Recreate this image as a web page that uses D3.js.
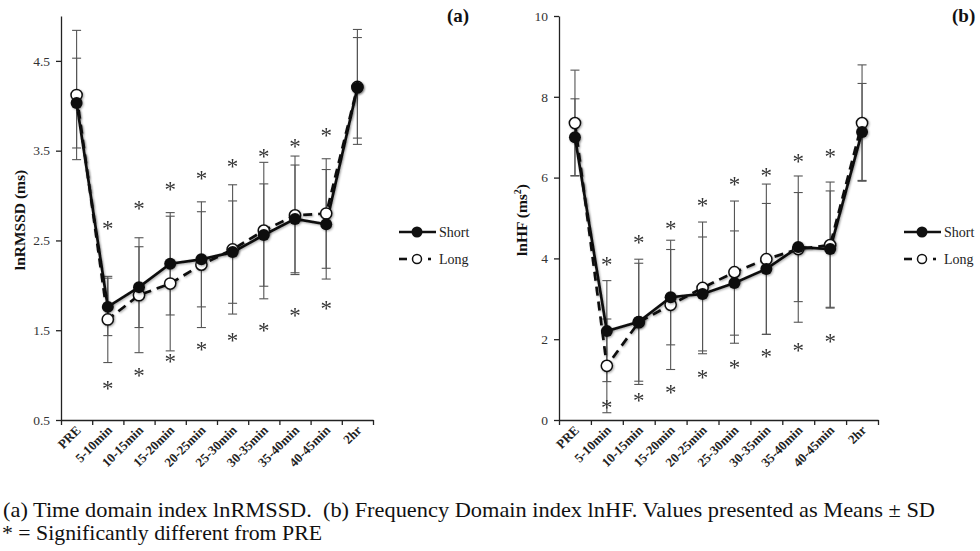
<html>
<head>
<meta charset="utf-8">
<title>lnRMSSD / lnHF</title>
<style>
  body { margin: 0; background: #fff; }
  svg text { font-family: "Liberation Serif", "Times New Roman", serif; }
</style>
</head>
<body>
<div id="chart"></div>
<script src="https://cdn.jsdelivr.net/npm/d3@7"></script>
<script>
(function(){
  "use strict";

  // time points
  var categories = ["PRE", "5-10min", "10-15min", "15-20min", "20-25min", "25-30min",
                    "30-35min", "35-40min", "40-45min", "2hr"];

  // (a) lnRMSSD, means and SD
  var rmssdShort   = [4.03, 1.76, 1.98, 2.24, 2.29, 2.37, 2.56, 2.74, 2.68, 4.20];
  var rmssdShortSD = [0.50, 0.32, 0.45, 0.57, 0.53, 0.57, 0.57, 0.60, 0.61, 0.56];
  var rmssdLong    = [4.12, 1.62, 1.89, 2.02, 2.23, 2.40, 2.61, 2.78, 2.80, 4.21];
  var rmssdLongSD  = [0.72, 0.48, 0.64, 0.75, 0.70, 0.72, 0.76, 0.66, 0.61, 0.64];
  // where the "*" marks sit (null = none)
  var rmssdStarUp   = [null, 2.68, 2.90, 3.11, 3.23, 3.37, 3.48, 3.59, 3.71, null];
  var rmssdStarDown = [null, 0.90, 1.04, 1.20, 1.33, 1.43, 1.54, 1.71, 1.79, null];
  var rmssdTicks = [0.5, 1.5, 2.5, 3.5, 4.5];

  // (b) lnHF, means and SD
  var hfShort   = [7.00, 2.20, 2.43, 3.04, 3.12, 3.39, 3.74, 4.28, 4.23, 7.13];
  var hfShortSD = [0.95, 1.25, 1.55, 1.18, 1.41, 1.29, 1.62, 1.35, 1.44, 1.20];
  var hfLong    = [7.35, 1.34, 2.42, 2.85, 3.27, 3.66, 3.98, 4.23, 4.33, 7.35];
  var hfLongSD  = [1.31, 1.16, 1.46, 1.60, 1.63, 1.76, 1.86, 1.81, 1.56, 1.44];
  var hfStarUp   = [null, 3.96, 4.50, 4.83, 5.40, 5.92, 6.16, 6.49, 6.63, null];
  var hfStarDown = [null, 0.40, 0.59, 0.77, 1.16, 1.41, 1.68, 1.83, 2.05, null];
  var hfTicks = [0, 2, 4, 6, 8, 10];

  var width = 980, height = 551;
  var serif = "Liberation Serif";

  var svg = d3.select("#chart").append("svg")
      .attr("width", width)
      .attr("height", height);

  // soft shadow like the Excel markers
  var defs = svg.append("defs");
  var f = defs.append("filter").attr("id", "shadow")
      .attr("x", "-50%").attr("y", "-50%").attr("width", "200%").attr("height", "200%");
  f.append("feDropShadow").attr("dx", 1).attr("dy", 1)
      .attr("stdDeviation", 1).attr("flood-color", "#000").attr("flood-opacity", 0.35);

  function drawPanel(opt) {
    var g = svg.append("g");

    var x = d3.scaleBand().domain(categories).range(opt.xRange);
    var xEdge = d3.scaleLinear().domain([0, categories.length]).range(opt.xRange);
    var y = d3.scaleLinear().domain(opt.yDomain).range([420, 16]);
    var cx = function(i){ return x(categories[i]) + x.bandwidth() / 2; };

    // y axis
    var yAxis = g.append("g")
        .attr("transform", "translate(" + opt.xRange[0] + ",0)")
        .call(d3.axisLeft(y).tickValues(opt.ticks).tickSize(5).tickSizeOuter(0)
              .tickFormat(opt.tickFormat));
    yAxis.selectAll("text").attr("font-size", 13.5).attr("fill", "#333")
        .attr("font-family", serif).attr("dx", "-3");

    // x axis: tick marks on category edges, labels under the centres
    var xAxis = g.append("g")
        .attr("transform", "translate(0,420)")
        .call(d3.axisBottom(xEdge).tickValues(d3.range(categories.length + 1))
              .tickSize(5).tickSizeOuter(0).tickFormat(""));
    [yAxis, xAxis].forEach(function(a){
      a.selectAll("path, line").attr("stroke", "#222").attr("stroke-width", 1.3);
    });

    g.append("g").selectAll("text")
      .data(categories)
      .enter().append("text")
        .attr("transform", function(d, i){
          return "translate(" + (cx(i) + 5) + ",431) rotate(-45)";
        })
        .attr("text-anchor", "end")
        .attr("font-family", serif)
        .attr("font-size", 13)
        .attr("font-weight", "bold")
        .attr("fill", "#222")
        .text(function(d){ return d; });

    // y title
    var title = g.append("text")
        .attr("transform", "translate(" + opt.titleX + ",220) rotate(-90)")
        .attr("text-anchor", "middle")
        .attr("font-family", serif)
        .attr("font-size", 15.5)
        .attr("font-weight", "bold")
        .attr("fill", "#111");
    opt.title(title);

    // error bars
    var series = [
      { m: opt.long,  sd: opt.longSD },
      { m: opt.short, sd: opt.shortSD }
    ];
    var eb = g.append("g").attr("stroke", "#555").attr("stroke-width", 1.1);
    series.forEach(function(s){
      s.m.forEach(function(v, i){
        var xx = cx(i), top = y(v + s.sd[i]), bot = y(v - s.sd[i]);
        eb.append("line").attr("x1", xx).attr("x2", xx).attr("y1", top).attr("y2", bot);
        eb.append("line").attr("x1", xx - 4.5).attr("x2", xx + 4.5).attr("y1", top).attr("y2", top);
        eb.append("line").attr("x1", xx - 4.5).attr("x2", xx + 4.5).attr("y1", bot).attr("y2", bot);
      });
    });

    // asterisks
    var stars = [];
    opt.starUp.forEach(function(v, i){ if (v !== null) stars.push([i, v]); });
    opt.starDown.forEach(function(v, i){ if (v !== null) stars.push([i, v]); });
    g.append("g").attr("opacity", 0.99).selectAll("text")
      .data(stars)
      .enter().append("text")
        .attr("x", function(d){ return cx(d[0]); })
        .attr("y", function(d){ return y(d[1]); })
        .attr("dy", "0.5em")
        .attr("text-anchor", "middle")
        .attr("font-family", serif)
        .attr("font-size", 23)
        .attr("fill", "#333")
        .text("*");

    var line = d3.line()
        .x(function(d, i){ return cx(i); })
        .y(function(d){ return y(d); });

    g.append("path").datum(opt.short)
      .attr("d", line).attr("fill", "none")
      .attr("stroke", "#111").attr("stroke-width", 2.7)
      .attr("filter", "url(#shadow)");
    g.append("path").datum(opt.long)
      .attr("d", line).attr("fill", "none")
      .attr("stroke", "#111").attr("stroke-width", 2.7)
      .attr("stroke-dasharray", "9,6")
      .attr("filter", "url(#shadow)");

    g.append("g").selectAll("circle")
      .data(opt.long)
      .enter().append("circle")
        .attr("cx", function(d, i){ return cx(i); })
        .attr("cy", function(d){ return y(d); })
        .attr("r", 5.6)
        .attr("fill", "#fff")
        .attr("stroke", "#111")
        .attr("stroke-width", 1.5)
        .attr("filter", "url(#shadow)");
    g.append("g").selectAll("circle")
      .data(opt.short)
      .enter().append("circle")
        .attr("cx", function(d, i){ return cx(i); })
        .attr("cy", function(d){ return y(d); })
        .attr("r", 6)
        .attr("fill", "#111")
        .attr("filter", "url(#shadow)");

    // legend
    var lg = g.append("g").attr("transform", "translate(" + opt.legendX + ",0)");
    lg.append("line").attr("x1", 0).attr("x2", 37).attr("y1", 232).attr("y2", 232)
      .attr("stroke", "#111").attr("stroke-width", 2.6);
    lg.append("circle").attr("cx", 18).attr("cy", 232).attr("r", 5.5).attr("fill", "#111");
    lg.append("text").attr("x", 40).attr("y", 237).attr("font-size", 14)
      .attr("font-family", serif).attr("fill", "#222").text("Short");
    lg.append("line").attr("x1", 0).attr("x2", 8).attr("y1", 259).attr("y2", 259)
      .attr("stroke", "#111").attr("stroke-width", 2.6);
    lg.append("line").attr("x1", 13).attr("x2", 23).attr("y1", 259).attr("y2", 259)
      .attr("stroke", "#111").attr("stroke-width", 2.6);
    lg.append("circle").attr("cx", 18).attr("cy", 259).attr("r", 4.5)
      .attr("fill", "#fff").attr("stroke", "#111").attr("stroke-width", 1.5);
    lg.append("line").attr("x1", 29).attr("x2", 32).attr("y1", 259).attr("y2", 259)
      .attr("stroke", "#111").attr("stroke-width", 2.6);
    lg.append("text").attr("x", 40).attr("y", 264).attr("font-size", 14)
      .attr("font-family", serif).attr("fill", "#222").text("Long");

    // panel letter
    g.append("text").attr("x", opt.letterX).attr("y", 22)
      .attr("font-family", serif)
      .attr("font-size", 19).attr("font-weight", "bold").attr("fill", "#111")
      .text(opt.letter);
  }

  drawPanel({
    xRange: [61, 373], yDomain: [0.5, 5], ticks: rmssdTicks,
    tickFormat: d3.format(".1f"),
    short: rmssdShort, shortSD: rmssdShortSD, long: rmssdLong, longSD: rmssdLongSD,
    starUp: rmssdStarUp, starDown: rmssdStarDown,
    titleX: 25,
    title: function(t){ t.text("lnRMSSD (ms)"); },
    legendX: 399, letterX: 447, letter: "(a)"
  });

  drawPanel({
    xRange: [559, 878], yDomain: [0, 10], ticks: hfTicks,
    tickFormat: d3.format("d"),
    short: hfShort, shortSD: hfShortSD, long: hfLong, longSD: hfLongSD,
    starUp: hfStarUp, starDown: hfStarDown,
    titleX: 527,
    title: function(t){
      t.append("tspan").text("lnHF (ms");
      t.append("tspan").attr("font-size", 10).attr("dy", "-6").text("2");
      t.append("tspan").attr("dy", "6").text(")");
    },
    legendX: 904, letterX: 952, letter: "(b)"
  });

  // caption
  svg.append("text").attr("x", 3).attr("y", 517)
    .attr("xml:space", "preserve")
    .attr("font-family", serif)
    .attr("font-size", 22).attr("fill", "#111")
    .attr("textLength", 932).attr("lengthAdjust", "spacingAndGlyphs")
    .text("(a) Time domain index lnRMSSD.  (b) Frequency Domain index lnHF. Values presented as Means \u00b1 SD");
  svg.append("text").attr("x", 2).attr("y", 540)
    .attr("font-family", serif)
    .attr("font-size", 22).attr("fill", "#111")
    .attr("textLength", 320).attr("lengthAdjust", "spacingAndGlyphs")
    .text("* = Significantly different from PRE");
})();
</script>
</body>
</html>
